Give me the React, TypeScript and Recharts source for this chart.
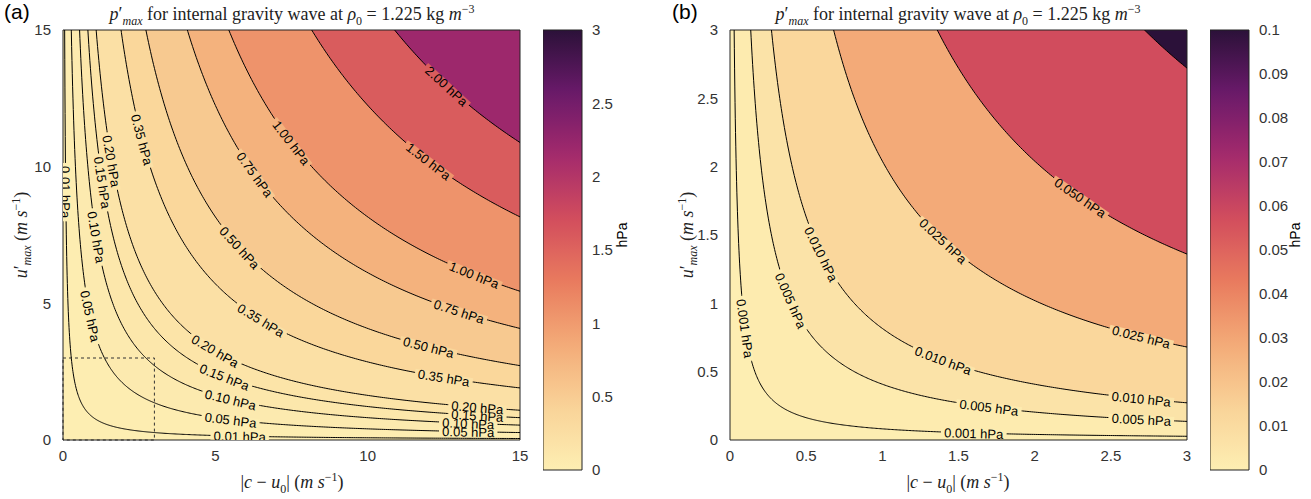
import React from 'react';
import {
  ComposedChart, Area, Line, Scatter, XAxis, YAxis, ReferenceArea, BarChart, Bar,
} from 'recharts';

const RHO = 1.225;

// contour levels (hPa) and label positions (|c-u0| values)
const levelsA = [0.01, 0.05, 0.1, 0.15, 0.2, 0.35, 0.5, 0.75, 1.0, 1.5, 2.0];
const labelCA = [[0.09, 5.8], [0.9, 5.5, 13.3], [1.1, 5.5, 13.3], [1.3, 5.3, 13.6], [1.6, 5.0, 13.6],
  [2.6, 6.5, 12.5], [5.8, 12], [6.3, 13], [7.5, 13.5], [12], [12.6]];
const ticksA = [0, 5, 10, 15];
const cbarTicksA = [0, 0.5, 1, 1.5, 2, 2.5, 3];

const levelsB = [0.001, 0.005, 0.01, 0.025, 0.05, 0.1];
const labelCB = [[0.1, 1.6], [0.4, 1.7, 2.7], [0.6, 1.4, 2.7], [1.4, 2.7], [2.3], []];
const ticksB = [0, 0.5, 1, 1.5, 2, 2.5, 3];
const cbarTicksB = [0, 0.01, 0.02, 0.03, 0.04, 0.05, 0.06, 0.07, 0.08, 0.09, 0.1];

const CMAP = ['#fdeeb2', '#f9d398', '#f3ab78', '#e97b5e', '#d24d5d', '#a42a6c', '#6a1a6a', '#2b1139'];

function hex(h: string) { return [1, 3, 5].map(i => parseInt(h.slice(i, i + 2), 16)); }
function cmap(t: number) {
  t = Math.max(0, Math.min(1, t));
  const s = t * (CMAP.length - 1);
  const i = Math.min(CMAP.length - 2, Math.floor(s));
  const f = s - i;
  const a = hex(CMAP[i]), b = hex(CMAP[i + 1]);
  return `rgb(${a.map((v, k) => Math.round(v + (b[k] - v) * f)).join(',')})`;
}

const W = 530, H = 499, M = { top: 30, right: 10, left: 0, bottom: 29 };
const YW = 63, XH = 30;
const PW = W - M.right - YW, PH = H - M.top - M.bottom - XH;

function uAt(L: number, c: number) { return (L * 100) / (RHO * c); }

function Panel({ levels, labelC, ticks, max, cmax, dashed, fmt }: any) {
  const bandColor = (j: number) => {
    const lo = j === 0 ? 0 : levels[j - 1];
    const hi = j < levels.length ? levels[j] : cmax * 1.1;
    return cmap((lo + 0.15 * (hi - lo)) / cmax);
  };
  const rows: any[] = [];
  const N = 400;
  for (let i = 0; i <= N; i++) {
    const c = i === 0 ? 0 : max * (i / N) ** 2;
    const r: any = { c, top: max };
    levels.forEach((L: number, j: number) => {
      const u = c === 0 ? max * 1.3 : uAt(L, c);
      r['a' + j] = Math.min(u, max);
      r['l' + j] = Math.min(u, max * 1.3);
    });
    rows.push(r);
  }
  const labels: any[] = [];
  levels.forEach((L: number, j: number) => {
    (labelC[j] || []).forEach((c: number) => {
      const u = uAt(L, c);
      if (u <= max) labels.push({ c, u, text: fmt(L) + ' hPa', angle: Math.atan((u / c) * (PH / max) / (PW / max)) * 180 / Math.PI, fill: bandColor(j) });
    });
  });
  const LabelShape = (p: any) => {
    const d = p.payload;
    const w = d.text.length * 7.3;
    return (
      <g transform={`translate(${p.cx},${p.cy}) rotate(${d.angle})`}>
        <rect x={-w / 2} y={-4} width={w} height={8} fill={d.fill} />
        <text textAnchor="middle" dy={5} fontSize={13} fontFamily="Liberation Sans" fill="#000">{d.text}</text>
      </g>
    );
  };
  const tick = { fontSize: 15, fill: '#333', fontFamily: 'Liberation Sans' };
  const desc = levels.map((_: number, j: number) => j).reverse();
  return (
    <ComposedChart width={W} height={H} data={rows} margin={M}>
      <XAxis dataKey="c" type="number" domain={[0, max]} ticks={ticks} allowDataOverflow tick={tick}
        tickLine={false} axisLine={false} height={XH} tickMargin={4} />
      <YAxis type="number" domain={[0, max]} ticks={ticks} allowDataOverflow tick={tick}
        tickLine={false} axisLine={false} width={YW} tickMargin={6} />
      <Area dataKey="top" type="linear" stroke="none" fill={bandColor(levels.length)} fillOpacity={1}
        isAnimationActive={false} />
      {desc.map((j: number) => (
        <Area key={'a' + j} dataKey={'a' + j} type="linear" stroke="none" fill={bandColor(j)}
          fillOpacity={1} isAnimationActive={false} />
      ))}
      {levels.map((L: number, j: number) => (
        <Line key={'l' + j} dataKey={'l' + j} type="linear" stroke="#000" strokeWidth={1} dot={false}
          isAnimationActive={false} />
      ))}
      {dashed && (
        <ReferenceArea x1={0} x2={dashed} y1={0} y2={dashed} fill="none" stroke="#333" strokeDasharray="3 3" />
      )}
      <Scatter data={labels} dataKey="u" shape={LabelShape} isAnimationActive={false} />
      <ReferenceArea x1={0} x2={max} y1={0} y2={max} fill="none" stroke="#222" strokeWidth={1} />
    </ComposedChart>
  );
}

function ColorBar({ id, ticks, max, fmt }: any) {
  const stops = Array.from({ length: 31 }, (_, i) => i / 30);
  return (
    <BarChart width={90} height={H} data={[{ k: 'x', v: max }]} margin={{ top: 30, right: 0, left: 0, bottom: 29 }}
      barCategoryGap={0}>
      <defs>
        <linearGradient id={id} x1="0" y1="1" x2="0" y2="0">
          {stops.map(s => <stop key={s} offset={s} stopColor={cmap(s)} />)}
        </linearGradient>
      </defs>
      <XAxis dataKey="k" hide height={XH} />
      <YAxis orientation="right" type="number" domain={[0, max]} ticks={ticks} width={51} tickFormatter={fmt}
        tick={{ fontSize: 15, fill: '#333', fontFamily: 'Liberation Sans', textAnchor: 'start' }} tickLine={false} axisLine={false} tickMargin={4} />
      <Bar dataKey="v" fill={`url(#${id})`} stroke="#222" isAnimationActive={false} />
    </BarChart>
  );
}

const serif: React.CSSProperties = { fontFamily: 'Liberation Serif', fontSize: 18, position: 'absolute', whiteSpace: 'nowrap', color: '#222' };
const abs = (x: number, y: number, extra: React.CSSProperties = {}): React.CSSProperties => ({ position: 'absolute', left: x, top: y, ...extra });

function Title({ x }: { x: number }) {
  return (
    <div style={{ ...serif, left: x, top: 2, transform: 'translateX(-50%)' }}>
      <i>p</i>′<sub style={{ fontSize: 12 }}><i>max</i></sub> for internal gravity wave at <i>ρ</i><sub style={{ fontSize: 12 }}>0</sub> = 1.225 kg <i>m</i><sup style={{ fontSize: 12 }}>−3</sup>
    </div>
  );
}
function XLab({ x }: { x: number }) {
  return <div style={{ ...serif, left: x, top: 470, transform: 'translateX(-50%)' }}>|<i>c</i> − <i>u</i><sub style={{ fontSize: 12 }}>0</sub>| (<i>m s</i><sup style={{ fontSize: 12 }}>−1</sup>)</div>;
}
function YLab({ x }: { x: number }) {
  return <div style={{ ...serif, left: x, top: 235, transform: 'translate(-50%,-50%) rotate(-90deg)' }}><i>u</i>′<sub style={{ fontSize: 12 }}><i>max</i></sub> (<i>m s</i><sup style={{ fontSize: 12 }}>−1</sup>)</div>;
}

export default function App() {
  const fa = (v: number) => v.toFixed(2);
  const fb = (v: number) => v.toFixed(3);
  const hpa = (x: number) => (
    <div style={abs(x, 235, { fontFamily: 'Liberation Sans', fontSize: 14, transform: 'translate(-50%,-50%) rotate(-90deg)' })}>hPa</div>
  );
  return (
    <div style={{ position: 'absolute', left: 0, top: 0, width: 1311, height: 499, background: '#fff' }}>
      <div style={abs(0, 0)}><Panel levels={levelsA} labelC={labelCA} ticks={ticksA} max={15} cmax={3} dashed={3} fmt={fa} /></div>
      <div style={abs(543, 0)}><ColorBar id="ga" ticks={cbarTicksA} max={3} fmt={(v: number) => String(v)} /></div>
      <div style={abs(667, 0)}><Panel levels={levelsB} labelC={labelCB} ticks={ticksB} max={3} cmax={0.1} dashed={0} fmt={fb} /></div>
      <div style={abs(1210, 0)}><ColorBar id="gb" ticks={cbarTicksB} max={0.1} fmt={(v: number) => String(+v.toFixed(2))} /></div>
      <div style={abs(4, 0, { fontFamily: 'Liberation Sans', fontSize: 21 })}>(a)</div>
      <div style={abs(672, 0, { fontFamily: 'Liberation Sans', fontSize: 21 })}>(b)</div>
      <Title x={292} /><Title x={958} />
      <XLab x={292} /><XLab x={958} />
      <YLab x={22} /><YLab x={688} />
      {hpa(622)}{hpa(1295)}
    </div>
  );
}
